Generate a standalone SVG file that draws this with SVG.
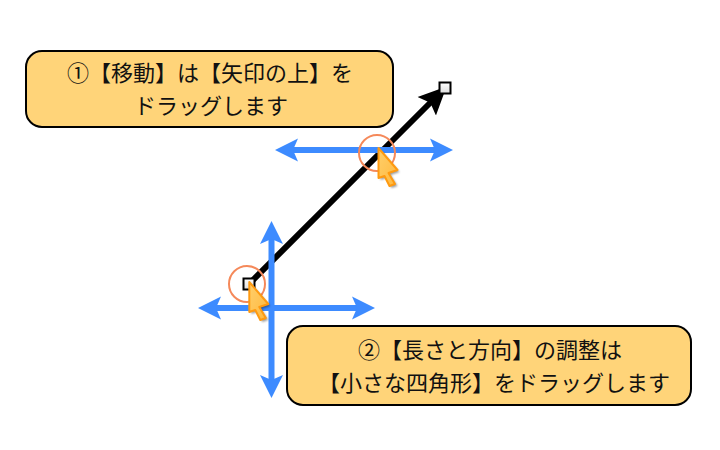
<svg xmlns="http://www.w3.org/2000/svg" width="720" height="450" viewBox="0 0 720 450">
<style>
.box{fill:#ffd479;stroke:#000;stroke-width:2}
.t{font-family:"Noto Sans CJK JP","Liberation Sans",sans-serif;font-size:22px;fill:#111;text-anchor:middle}
.blue{stroke:#3d8bff;stroke-width:6;fill:none}
.ring{fill:none;stroke:#f5895a;stroke-width:2}
.h{fill:url(#sq);stroke:#000;stroke-width:2}
</style>
<defs>
<linearGradient id="sq" x1="0" y1="0" x2="0" y2="1"><stop offset="0" stop-color="#fff"/><stop offset="1" stop-color="#ddd"/></linearGradient>
<linearGradient id="cur" x1="0" y1="0" x2="1" y2="1"><stop offset="0" stop-color="#ffcf6a"/><stop offset="1" stop-color="#ffb83e"/></linearGradient>
<filter id="sh" x="-40%" y="-40%" width="180%" height="180%"><feGaussianBlur stdDeviation="1.1"/></filter>
<marker id="bh" markerUnits="userSpaceOnUse" markerWidth="24" markerHeight="24" refX="6" refY="12" orient="auto-start-reverse" viewBox="0 0 24 24"><path d="M23 12L0 0.500L5 12L0 23.500Z" fill="#3d8bff"/></marker>
<marker id="kh" markerUnits="userSpaceOnUse" markerWidth="30" markerHeight="30" refX="6" refY="15" orient="auto" viewBox="0 0 30 30"><path d="M28 15L0 2L5 15L0 28Z" fill="#000"/></marker>
<g id="cursor">
<path d="M2 2L21 24L12 27L19 38L13 40L8 30L2 32Z" fill="#000" opacity=".4" filter="url(#sh)"/>
<path d="M0 0L19 22L10 25L16.500 36L11 38L6 28L0 30Z" fill="url(#cur)" stroke="#ff9a10" stroke-width="2" stroke-linejoin="round"/>
</g>
</defs>
<g id="connectors">
<path d="M249 284L431 102" stroke="#000" stroke-width="6" fill="none" marker-end="url(#kh)"/>
<path class="blue" d="M292 150H436" marker-start="url(#bh)" marker-end="url(#bh)"/>
<path class="blue" d="M215 308H358" marker-start="url(#bh)" marker-end="url(#bh)"/>
<path class="blue" d="M271.500 238V381" marker-start="url(#bh)" marker-end="url(#bh)"/>
</g>
<g id="node-box1">
<rect class="box" x="26" y="51" width="367" height="76" rx="16"/>
<text class="t" x="210" y="81">①【移動】は【矢印の上】を</text>
<text class="t" x="211" y="114">ドラッグします</text>
</g>
<g id="node-box2">
<rect class="box" x="287" y="326" width="404" height="79" rx="16"/>
<text class="t" x="490" y="358">②【長さと方向】の調整は</text>
<text class="t" x="494" y="391">【小さな四角形】をドラッグします</text>
</g>
<g id="node-handle-end"><rect class="h" x="439.500" y="82.500" width="11" height="11"/></g>
<g id="node-handle-start"><rect class="h" x="243.500" y="278.500" width="11" height="11"/></g>
<g id="node-drag-move">
<circle class="ring" cx="377" cy="153" r="18"/>
<use href="#cursor" x="378.500" y="148"/>
</g>
<g id="node-drag-resize">
<circle class="ring" cx="247" cy="284" r="18"/>
<use href="#cursor" x="249.300" y="282"/>
</g>
</svg>
